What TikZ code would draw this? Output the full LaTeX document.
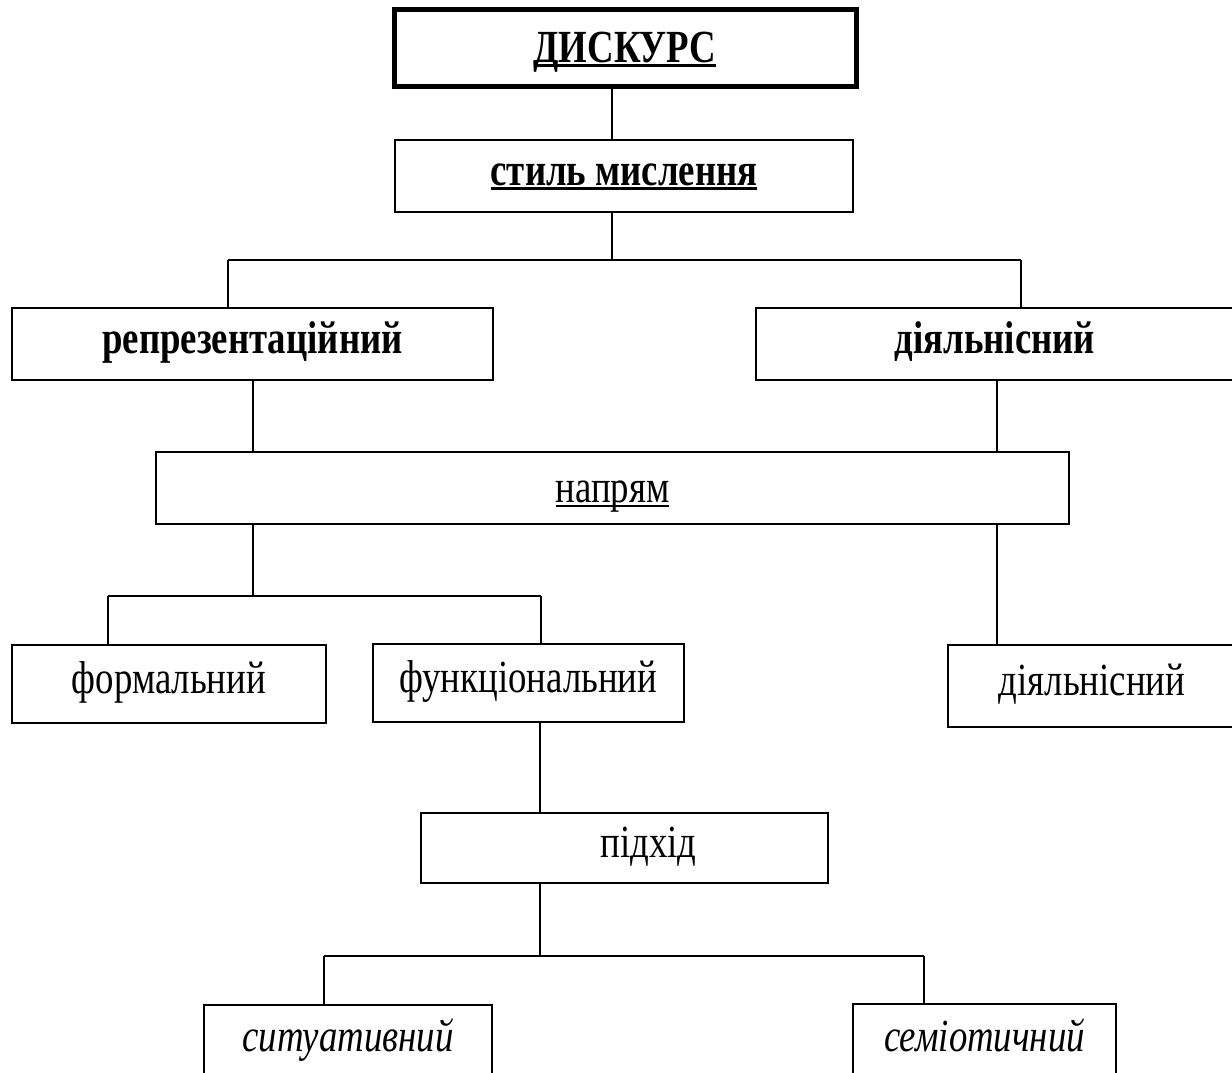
\documentclass[tikz,border=0pt]{standalone}
\usepackage{fontspec}
\setmainfont{Liberation Serif}[FakeStretch=0.8]
% underline with a rule of given thickness
\newcommand\ulbox[2][2.5pt]{\setbox0\hbox{#2}\leavevmode\rlap{\smash{\rule[-5pt]{\wd0}{#1}}}\box0}
\tikzset{
	box/.style={draw, line width=1.8pt, inner sep=0pt, text height=30pt, text depth=12pt, font=\fontsize{46}{50}\selectfont},
	lowtext/.style={text height=38pt, text depth=10pt},
	hightext/.style={text height=24pt, text depth=12pt},
	link/.style={line width=1.8pt}
}
\begin{document}
\begin{tikzpicture}[x=1pt, y=-1pt]
	\useasboundingbox (0,0) rectangle (1232,1072);
	
	\node(disk)[box, lowtext, line width=5pt, minimum width=462pt, minimum height=77pt] at (625,48) {\textbf{\ulbox[3pt]{ДИСКУРС}}};
	\node(style)[box, minimum width=458pt, minimum height=72pt] at (624,176) {\textbf{\ulbox[3pt]{стиль мислення}}};
	\node(repr)[box, minimum width=481pt, minimum height=72pt] at (252.5,344) {\textbf{репрезентаційний}};
	\node(dial)[box, minimum width=478pt, minimum height=72pt] at (995,344) {\textbf{діяльнісний}};
	\node(napr)[box, lowtext, minimum width=913pt, minimum height=72pt] at (612.5,488) {\ulbox[1.6pt]{напрям}};
	\node(form)[box, minimum width=314pt, minimum height=78pt] at (169,684) {формальний};
	\node(func)[box, minimum width=311pt, minimum height=78pt] at (528.5,683) {функціональний};
	\node(dial2)[box, minimum width=288pt, minimum height=82pt] at (1092,686) {діяльнісний};
	\node(pidh)[box, minimum width=407pt, minimum height=70pt] at (624.5,848) {\hspace*{48pt}підхід};
	\node(sit)[box, hightext, minimum width=288pt, minimum height=80pt] at (348,1045) {\textit{ситуативний}};
	\node(semi)[box, hightext, minimum width=263pt, minimum height=82pt] at (984.5,1045) {\textit{семіотичний}};
	
	% columns of the connectors
	\coordinate (spine) at (612,0);
	\coordinate (colL) at (253,0);
	\coordinate (colR) at (997,0);
	\coordinate (colF) at (540,0);
	\coordinate (fork1) at (612,260);
	\coordinate (fork1l) at (228,260);
	\coordinate (fork1r) at (1021,260);
	\coordinate (fork2) at (253,596);
	\coordinate (fork2l) at (108,596);
	\coordinate (fork2r) at (541,596);
	\coordinate (fork3) at (540,956);
	\coordinate (fork3l) at (324,956);
	\coordinate (fork3r) at (924,956);
	
	\draw[link] (disk.south -| spine) -- (style.north -| spine);
	\draw[link] (style.south -| spine) -- (fork1);
	\draw[link] (fork1l) -- (fork1r);
	\draw[link] (fork1l) -- (fork1l |- repr.north); \draw[link] (fork1r) -- (fork1r |- dial.north);
	\draw[link] (repr.south -| colL) -- (napr.north -| colL);
	\draw[link] (dial.south -| colR) -- (napr.north -| colR);
	\draw[link] (napr.south -| colL) -- (fork2);
	\draw[link] (fork2l) -- (fork2r);
	\draw[link] (fork2l) -- (fork2l |- form.north); \draw[link] (fork2r) -- (fork2r |- func.north);
	\draw[link] (napr.south -| colR) -- (dial2.north -| colR);
	\draw[link] (func.south -| colF) -- (pidh.north -| colF);
	\draw[link] (pidh.south -| colF) -- (fork3);
	\draw[link] (fork3l) -- (fork3r);
	\draw[link] (fork3l) -- (fork3l |- sit.north); \draw[link] (fork3r) -- (fork3r |- semi.north);
\end{tikzpicture}
\end{document}
